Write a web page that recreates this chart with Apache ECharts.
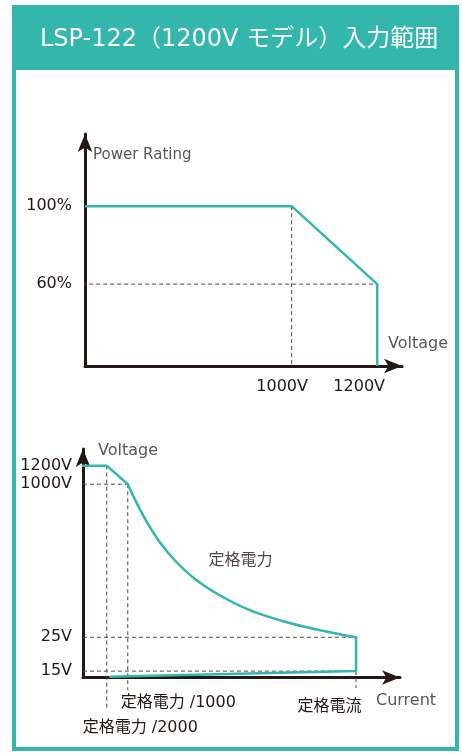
<!DOCTYPE html>
<html>
<head>
<meta charset="utf-8">
<script src="https://cdn.jsdelivr.net/npm/echarts@6/dist/echarts.min.js"></script>
<style>
html, body { margin: 0; padding: 0; background: #fff; }
#main { width: 462px; height: 753px; }
</style>
</head>
<body>
<div id="main"></div>
<script>
// top chart: power rating vs input voltage (schematic axes)
var ratingVMin = 517, ratingVMax = 1258;   // V
var ratingPMin = 18, ratingPMax = 137;     // %
var ratingVoltage = [ratingVMin, 1000, 1200, 1200];
var ratingPower = [100, 100, 60, ratingPMin];
var ratingPowerTicks = [60, 100];
var ratingVoltTicks = [1000, 1200];

// bottom chart: voltage vs current, current in % of rated current,
// voltage as a schematic level (0..100 of the axis height)
var ivCurMax = 116.1;
var ivLimitCurrent = [0, 8.7, 16.4];
var ivLimitLevel = [92.7, 92.7, 84.6];
var ivPowerCurrent = [16.4, 20.1, 23.8, 28.2, 33.7, 41.0, 50.2, 61.1, 74.0, 86.8, 100];
var ivPowerLevel = [84.6, 75.3, 67.2, 59.1, 51.2, 43.1, 35.9, 29.5, 24.4, 20.7, 17.6];
var ivLowCurrent = [100, 100, 10];
var ivLowLevel = [17.6, 2.8, 0.3];
var ivVoltTickLevel = [2.8, 17.6, 84.6, 92.7];
var ivVoltTickText = ['15V', '25V', '1000V', '1200V'];
var ivCurTickValue = [8.7, 16.4, 100];
var ivCurTickText = ['定格電力 /2000', '定格電力 /1000', '定格電流'];
var ivNote = [[57.7, 51]];

var TEAL = '#33b6ab';
var INK = '#231815';
var GREY = '#595757';
var FONT = "'DejaVu Sans', 'Noto Sans CJK JP', sans-serif";

function pairs(xs, ys) {
  return xs.map(function (x, i) { return [x, ys[i]]; });
}

function guide(idx, pts) {
  return {
    type: 'line', xAxisIndex: idx, yAxisIndex: idx, data: pts,
    symbol: 'none', clip: false, silent: true, z: 1,
    lineStyle: { color: '#4a4a4a', width: 1, type: [4, 3] }
  };
}

function axisLine() {
  return {
    show: true, onZero: false,
    symbol: ['none', 'arrow'], symbolSize: [11, 18],
    lineStyle: { color: INK, width: 3 }
  };
}

var chart = echarts.init(document.getElementById('main'));

chart.setOption({
  backgroundColor: '#fff',
  animation: false,
  textStyle: { fontFamily: FONT },
  title: {
    text: 'LSP-122（1200V モデル）入力範囲',
    left: 40, top: 28, padding: 0,
    textStyle: { color: '#fff', fontSize: 24, fontWeight: 'normal', fontFamily: FONT }
  },
  graphic: [
    { type: 'rect', shape: { x: 14, y: 7, width: 443, height: 742 },
      style: { fill: 'none', stroke: TEAL, lineWidth: 4 } },
    { type: 'rect', shape: { x: 12, y: 5, width: 447, height: 65 },
      style: { fill: TEAL } }
  ],
  grid: [
    { left: 85, top: 134, width: 317, height: 232 },
    { left: 83, top: 449, width: 317, height: 228.5 }
  ],
  xAxis: [
    {
      gridIndex: 0, type: 'value', min: ratingVMin, max: ratingVMax,
      axisLine: axisLine(), axisTick: { show: false }, splitLine: { show: false },
      name: 'Voltage', nameLocation: 'end', nameGap: -14,
      nameTextStyle: { color: GREY, fontSize: 16, align: 'left', verticalAlign: 'bottom', padding: [0, 0, 14, 0] },
      axisLabel: {
        customValues: ratingVoltTicks, margin: 13, color: INK, fontSize: 16,
        formatter: function (v) { return v === 1000 ? '{a|' + v + 'V}' : '{b|' + v + 'V}'; },
        rich: {
          a: { fontSize: 16, color: INK, fontFamily: FONT, padding: [0, 19, 0, 0] },
          b: { fontSize: 16, color: INK, fontFamily: FONT, padding: [0, 36, 0, 0] }
        }
      }
    },
    {
      gridIndex: 1, type: 'value', min: 0, max: ivCurMax,
      axisLine: axisLine(), axisTick: { show: false }, splitLine: { show: false },
      name: 'Current', nameLocation: 'end', nameGap: -24,
      nameTextStyle: { color: GREY, fontSize: 16, align: 'left', verticalAlign: 'top', padding: [15, 0, 0, 0] },
      axisLabel: {
        customValues: ivCurTickValue, margin: 17, color: INK, fontSize: 16,
        formatter: function (v) {
          var i = ivCurTickValue.indexOf(v);
          return '{s' + i + '|' + ivCurTickText[i] + '}';
        },
        rich: {
          s0: { fontSize: 16, color: INK, fontFamily: FONT, padding: [25, 0, 0, 67] },
          s1: { fontSize: 16, color: INK, fontFamily: FONT, padding: [0, 0, 0, 101] },
          s2: { fontSize: 16, color: INK, fontFamily: FONT, padding: [4, 53, 0, 0] }
        }
      }
    }
  ],
  yAxis: [
    {
      gridIndex: 0, type: 'value', min: ratingPMin, max: ratingPMax,
      axisLine: axisLine(), axisTick: { show: false }, splitLine: { show: false },
      name: 'Power Rating', nameLocation: 'end', nameGap: -21,
      nameTextStyle: { color: GREY, fontSize: 15, align: 'left', verticalAlign: 'middle', padding: [0, 0, 0, 8] },
      axisLabel: {
        customValues: ratingPowerTicks, margin: 13, color: INK, fontSize: 16,
        formatter: function (v) { return v + '%'; }
      }
    },
    {
      gridIndex: 1, type: 'value', min: 0, max: 100,
      axisLine: axisLine(), axisTick: { show: false }, splitLine: { show: false },
      name: 'Voltage', nameLocation: 'end', nameGap: -2,
      nameTextStyle: { color: GREY, fontSize: 16, align: 'left', verticalAlign: 'middle', padding: [0, 0, 0, 15] },
      axisLabel: {
        customValues: ivVoltTickLevel, margin: 11, color: INK, fontSize: 16,
        formatter: function (v) {
          var i = ivVoltTickLevel.indexOf(v);
          return i >= 0 ? ivVoltTickText[i] : '';
        }
      }
    }
  ],
  series: [
    // top chart guides
    guide(0, [[1000, 100], [1000, ratingPMin]]),
    guide(0, [[494, 60], [1200, 60]]),
    {
      type: 'line', xAxisIndex: 0, yAxisIndex: 0,
      data: pairs(ratingVoltage, ratingPower),
      symbol: 'none', lineStyle: { color: TEAL, width: 2.5 }
    },

    // bottom chart guides
    guide(1, [[-2.6, 84.6], [16.4, 84.6]]),
    guide(1, [[-2.6, 17.6], [100, 17.6]]),
    guide(1, [[-2.6, 2.8], [100, 2.8]]),
    guide(1, [[8.7, 92.7], [8.7, -13.3]]),
    guide(1, [[16.4, 84.6], [16.4, -5.5]]),
    guide(1, [[100, 2.8], [100, -4.6]]),
    {
      type: 'line', xAxisIndex: 1, yAxisIndex: 1,
      data: pairs(ivLimitCurrent, ivLimitLevel),
      symbol: 'none', lineStyle: { color: TEAL, width: 2.5, cap: 'round', join: 'round' }
    },
    {
      type: 'line', xAxisIndex: 1, yAxisIndex: 1, smooth: 0.4,
      data: pairs(ivPowerCurrent, ivPowerLevel),
      symbol: 'none', lineStyle: { color: TEAL, width: 2.5, cap: 'round' }
    },
    {
      type: 'line', xAxisIndex: 1, yAxisIndex: 1,
      data: pairs(ivLowCurrent, ivLowLevel),
      symbol: 'none', lineStyle: { color: TEAL, width: 2.5, cap: 'round', join: 'round' }
    },
    {
      type: 'scatter', xAxisIndex: 1, yAxisIndex: 1, data: ivNote,
      symbolSize: 1, itemStyle: { color: 'rgba(0,0,0,0)' }, silent: true,
      label: {
        show: true, position: 'inside', formatter: '定格電力',
        color: INK, fontSize: 16, fontFamily: FONT
      }
    }
  ]
});
</script>
</body>
</html>
